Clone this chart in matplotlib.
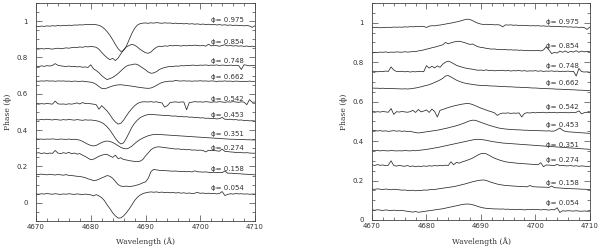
import numpy as np
import matplotlib
matplotlib.use("Agg")
import matplotlib.pyplot as plt
from matplotlib.ticker import MultipleLocator, FuncFormatter

# common wavelength sampling (Angstrom)
wavelength = np.linspace(4670, 4710, 81)
phase_labels = ["0.975", "0.854", "0.748", "0.662", "0.542",
                "0.453", "0.351", "0.274", "0.158", "0.054"]

# ---- left panel (absorption) : offset spectra ----
left_975 = [0.972, 0.970, 0.973, 0.971, 0.974, 0.972, 0.975, 0.973, 0.976, 0.974,
            0.977, 0.975, 0.978, 0.976, 0.979, 0.978, 0.980, 0.979, 0.981, 0.982,
            0.981, 0.982, 0.980, 0.977, 0.970, 0.958, 0.942, 0.922, 0.898, 0.872,
            0.848, 0.833, 0.838, 0.862, 0.897, 0.932, 0.960, 0.978, 0.986, 0.989,
            0.990, 0.988, 0.991, 0.989, 0.992, 0.990, 0.988, 0.991, 0.989, 0.990,
            0.987, 0.989, 0.986, 0.988, 0.985, 0.987, 0.984, 0.986, 0.983, 0.985,
            0.982, 0.984, 0.981, 0.983, 0.980, 0.982, 0.979, 0.981, 0.978, 0.980,
            0.977, 0.979, 0.976, 0.978, 0.975, 0.977, 0.974, 0.976, 0.973, 0.966, 0.975]
left_854 = [0.848, 0.846, 0.849, 0.847, 0.850, 0.848, 0.846, 0.849, 0.851, 0.848,
            0.850, 0.853, 0.851, 0.854, 0.856, 0.855, 0.858, 0.856, 0.860, 0.858,
            0.861, 0.859, 0.856, 0.845, 0.828, 0.812, 0.798, 0.788, 0.795, 0.783,
            0.797, 0.820, 0.842, 0.858, 0.866, 0.872, 0.868, 0.858, 0.845, 0.835,
            0.826, 0.823, 0.830, 0.845, 0.856, 0.862, 0.860, 0.864, 0.862, 0.866,
            0.864, 0.867, 0.865, 0.863, 0.866, 0.864, 0.867, 0.865, 0.868, 0.866,
            0.864, 0.867, 0.862, 0.873, 0.864, 0.867, 0.865, 0.862, 0.866, 0.870,
            0.864, 0.866, 0.863, 0.865, 0.862, 0.864, 0.861, 0.863, 0.860, 0.862, 0.860]
left_748 = [0.752, 0.750, 0.754, 0.751, 0.755, 0.753, 0.756, 0.766, 0.757, 0.754,
            0.752, 0.750, 0.753, 0.749, 0.751, 0.748, 0.750, 0.746, 0.748, 0.745,
            0.760, 0.738, 0.728, 0.716, 0.700, 0.688, 0.678, 0.684, 0.690, 0.700,
            0.712, 0.726, 0.740, 0.752, 0.758, 0.760, 0.764, 0.762, 0.752, 0.742,
            0.732, 0.720, 0.713, 0.715, 0.722, 0.733, 0.740, 0.745, 0.748, 0.751,
            0.750, 0.753, 0.752, 0.755, 0.754, 0.756, 0.755, 0.758, 0.757, 0.756,
            0.758, 0.757, 0.759, 0.756, 0.758, 0.757, 0.759, 0.756, 0.758, 0.757,
            0.755, 0.758, 0.756, 0.757, 0.756, 0.734, 0.760, 0.757, 0.754, 0.756, 0.755]
left_662 = [0.670, 0.669, 0.671, 0.670, 0.672, 0.670, 0.671, 0.669, 0.671, 0.670,
            0.671, 0.669, 0.670, 0.668, 0.670, 0.669, 0.668, 0.670, 0.667, 0.666,
            0.664, 0.660, 0.652, 0.640, 0.630, 0.628, 0.632, 0.638, 0.643, 0.647,
            0.649, 0.650, 0.648, 0.646, 0.644, 0.642, 0.640, 0.637, 0.635, 0.633,
            0.631, 0.630, 0.632, 0.638, 0.646, 0.655, 0.662, 0.666, 0.668, 0.670,
            0.669, 0.674, 0.671, 0.670, 0.672, 0.670, 0.671, 0.669, 0.671, 0.670,
            0.672, 0.670, 0.671, 0.669, 0.671, 0.670, 0.668, 0.670, 0.669, 0.671,
            0.669, 0.670, 0.668, 0.670, 0.669, 0.667, 0.669, 0.668, 0.670, 0.668, 0.669]
left_542 = [0.545, 0.543, 0.546, 0.544, 0.547, 0.545, 0.543, 0.560, 0.545, 0.543,
            0.544, 0.542, 0.545, 0.543, 0.546, 0.550, 0.544, 0.552, 0.546, 0.548,
            0.545, 0.543, 0.540, 0.515, 0.535, 0.520, 0.505, 0.485, 0.462, 0.445,
            0.433, 0.438, 0.455, 0.478, 0.500, 0.518, 0.534, 0.546, 0.553, 0.556,
            0.556, 0.555, 0.557, 0.554, 0.556, 0.552, 0.550, 0.527, 0.535, 0.552,
            0.554, 0.556, 0.553, 0.555, 0.555, 0.512, 0.552, 0.554, 0.557, 0.555,
            0.556, 0.554, 0.557, 0.555, 0.553, 0.556, 0.554, 0.557, 0.555, 0.553,
            0.556, 0.554, 0.557, 0.555, 0.553, 0.556, 0.554, 0.540, 0.568, 0.553, 0.555]
left_453 = [0.458, 0.456, 0.459, 0.457, 0.460, 0.458, 0.456, 0.459, 0.457, 0.455,
            0.458, 0.456, 0.459, 0.457, 0.455, 0.458, 0.456, 0.454, 0.457, 0.455,
            0.456, 0.454, 0.452, 0.448, 0.442, 0.432, 0.418, 0.400, 0.378, 0.355,
            0.336, 0.324, 0.330, 0.355, 0.385, 0.415, 0.438, 0.455, 0.468, 0.476,
            0.482, 0.486, 0.487, 0.486, 0.484, 0.483, 0.482, 0.480, 0.481, 0.479,
            0.477, 0.478, 0.475, 0.476, 0.473, 0.474, 0.471, 0.472, 0.469, 0.470,
            0.467, 0.468, 0.465, 0.466, 0.463, 0.464, 0.462, 0.463, 0.470, 0.460,
            0.459, 0.460, 0.457, 0.458, 0.455, 0.456, 0.453, 0.454, 0.451, 0.452, 0.450]
left_351 = [0.352, 0.350, 0.351, 0.349, 0.351, 0.350, 0.352, 0.350, 0.349, 0.351,
            0.350, 0.349, 0.351, 0.348, 0.350, 0.348, 0.345, 0.338, 0.330, 0.322,
            0.316, 0.313, 0.316, 0.324, 0.332, 0.338, 0.340, 0.338, 0.332, 0.324,
            0.314, 0.305, 0.299, 0.297, 0.302, 0.312, 0.325, 0.338, 0.348, 0.356,
            0.363, 0.369, 0.373, 0.376, 0.377, 0.376, 0.375, 0.374, 0.373, 0.372,
            0.371, 0.370, 0.369, 0.368, 0.367, 0.366, 0.365, 0.364, 0.363, 0.362,
            0.361, 0.360, 0.359, 0.358, 0.357, 0.356, 0.355, 0.354, 0.353, 0.352,
            0.351, 0.350, 0.350, 0.349, 0.349, 0.348, 0.348, 0.347, 0.347, 0.346, 0.346]
left_274 = [0.273, 0.276, 0.271, 0.275, 0.270, 0.274, 0.272, 0.288, 0.274, 0.270,
            0.276, 0.272, 0.278, 0.270, 0.274, 0.268, 0.271, 0.262, 0.255, 0.246,
            0.237, 0.240, 0.248, 0.256, 0.262, 0.266, 0.266, 0.258, 0.250, 0.262,
            0.243, 0.248, 0.238, 0.236, 0.232, 0.230, 0.228, 0.227, 0.229, 0.238,
            0.258, 0.275, 0.292, 0.302, 0.307, 0.308, 0.306, 0.304, 0.302, 0.300,
            0.298, 0.296, 0.297, 0.294, 0.295, 0.292, 0.293, 0.290, 0.291, 0.289,
            0.290, 0.288, 0.280, 0.289, 0.287, 0.288, 0.286, 0.284, 0.296, 0.283,
            0.282, 0.280, 0.279, 0.277, 0.278, 0.276, 0.275, 0.276, 0.274, 0.273, 0.273]
left_158 = [0.157, 0.155, 0.158, 0.156, 0.154, 0.157, 0.155, 0.153, 0.156, 0.154,
            0.152, 0.155, 0.151, 0.150, 0.148, 0.146, 0.145, 0.142, 0.138, 0.132,
            0.128, 0.122, 0.124, 0.130, 0.137, 0.143, 0.150, 0.146, 0.135, 0.118,
            0.100, 0.092, 0.090, 0.092, 0.089, 0.091, 0.094, 0.098, 0.103, 0.110,
            0.115, 0.135, 0.172, 0.184, 0.181, 0.179, 0.177, 0.178, 0.176, 0.175,
            0.174, 0.175, 0.173, 0.172, 0.173, 0.171, 0.172, 0.170, 0.176, 0.171,
            0.170, 0.169, 0.170, 0.168, 0.167, 0.168, 0.166, 0.167, 0.166, 0.175,
            0.163, 0.163, 0.162, 0.161, 0.160, 0.159, 0.158, 0.157, 0.156, 0.155, 0.154]
left_054 = [0.049, 0.047, 0.050, 0.048, 0.051, 0.049, 0.047, 0.050, 0.048, 0.046,
            0.049, 0.047, 0.050, 0.048, 0.046, 0.049, 0.047, 0.045, 0.048, 0.046,
            0.044, 0.038, 0.045, 0.038, 0.028, 0.012, -0.012, -0.032, -0.055, -0.072,
            -0.084, -0.083, -0.072, -0.055, -0.035, -0.012, 0.012, 0.030, 0.042, 0.050,
            0.055, 0.058, 0.060, 0.058, 0.060, 0.057, 0.059, 0.056, 0.058, 0.055,
            0.057, 0.054, 0.056, 0.053, 0.055, 0.052, 0.054, 0.051, 0.053, 0.057,
            0.052, 0.054, 0.051, 0.053, 0.050, 0.052, 0.049, 0.051, 0.062, 0.040,
            0.046, 0.050, 0.048, 0.051, 0.049, 0.050, 0.048, 0.049, 0.047, 0.048, 0.048]

# ---- right panel (emission) ----
right_975 = [0.976, 0.975, 0.977, 0.974, 0.976, 0.975, 0.977, 0.976, 0.978, 0.977,
             0.978, 0.977, 0.979, 0.978, 0.980, 0.979, 0.981, 0.980, 0.982, 0.981,
             0.976, 0.982, 0.985, 0.984, 0.987, 0.988, 0.991, 0.993, 0.996, 0.998,
             1.001, 1.004, 1.007, 1.011, 1.015, 1.018, 1.016, 1.010, 1.003, 0.997,
             0.993, 0.991, 0.992, 0.990, 0.991, 0.989, 0.990, 0.988, 0.979, 0.989,
             0.988, 0.989, 0.987, 0.988, 0.986, 0.987, 0.985, 0.986, 0.984, 0.985,
             0.984, 0.985, 0.983, 0.984, 0.982, 0.983, 0.981, 0.982, 0.980, 0.981,
             0.979, 0.980, 0.978, 0.979, 0.977, 0.978, 0.976, 0.977, 0.975, 0.966, 0.978]
right_854 = [0.846, 0.850, 0.849, 0.851, 0.850, 0.852, 0.849, 0.851, 0.850, 0.852,
             0.851, 0.850, 0.853, 0.851, 0.852, 0.854, 0.853, 0.857, 0.859, 0.862,
             0.866, 0.869, 0.873, 0.876, 0.880, 0.884, 0.888, 0.900, 0.893, 0.898,
             0.902, 0.905, 0.906, 0.903, 0.899, 0.894, 0.890, 0.892, 0.884, 0.878,
             0.875, 0.873, 0.870, 0.868, 0.866, 0.867, 0.864, 0.865, 0.863, 0.864,
             0.862, 0.863, 0.861, 0.862, 0.860, 0.861, 0.859, 0.860, 0.858, 0.859,
             0.858, 0.860, 0.857, 0.862, 0.878, 0.862, 0.843, 0.850, 0.846, 0.856,
             0.850, 0.857, 0.849, 0.855, 0.851, 0.858, 0.850, 0.856, 0.852, 0.855, 0.853]
right_748 = [0.752, 0.754, 0.751, 0.753, 0.752, 0.755, 0.753, 0.776, 0.760, 0.753,
             0.752, 0.754, 0.751, 0.753, 0.750, 0.752, 0.751, 0.753, 0.752, 0.752,
             0.782, 0.770, 0.779, 0.771, 0.781, 0.774, 0.790, 0.800, 0.805, 0.800,
             0.792, 0.784, 0.779, 0.775, 0.771, 0.768, 0.766, 0.764, 0.761, 0.759,
             0.760, 0.758, 0.761, 0.757, 0.759, 0.756, 0.758, 0.757, 0.759, 0.756,
             0.758, 0.755, 0.757, 0.756, 0.758, 0.755, 0.757, 0.754, 0.756, 0.755,
             0.757, 0.754, 0.756, 0.753, 0.755, 0.754, 0.756, 0.753, 0.755, 0.752,
             0.754, 0.753, 0.755, 0.752, 0.754, 0.730, 0.768, 0.752, 0.750, 0.751, 0.749]
right_662 = [0.669, 0.668, 0.668, 0.667, 0.668, 0.666, 0.667, 0.666, 0.666, 0.665,
             0.665, 0.664, 0.665, 0.664, 0.665, 0.667, 0.669, 0.672, 0.675, 0.679,
             0.682, 0.686, 0.691, 0.697, 0.703, 0.710, 0.718, 0.730, 0.732, 0.725,
             0.717, 0.709, 0.703, 0.698, 0.694, 0.691, 0.689, 0.687, 0.685, 0.683,
             0.682, 0.681, 0.681, 0.680, 0.679, 0.679, 0.678, 0.677, 0.677, 0.676,
             0.675, 0.675, 0.674, 0.673, 0.673, 0.672, 0.671, 0.671, 0.670, 0.669,
             0.669, 0.668, 0.667, 0.667, 0.666, 0.665, 0.665, 0.664, 0.663, 0.663,
             0.662, 0.661, 0.661, 0.660, 0.660, 0.659, 0.658, 0.658, 0.657, 0.657, 0.656]
right_542 = [0.548, 0.546, 0.549, 0.547, 0.550, 0.548, 0.546, 0.565, 0.535, 0.549,
             0.547, 0.550, 0.548, 0.546, 0.549, 0.556, 0.545, 0.560, 0.548, 0.552,
             0.558, 0.545, 0.562, 0.550, 0.522, 0.556, 0.560, 0.565, 0.570, 0.574,
             0.578, 0.581, 0.584, 0.587, 0.589, 0.591, 0.589, 0.585, 0.579, 0.573,
             0.567, 0.562, 0.557, 0.552, 0.548, 0.543, 0.530, 0.538, 0.542, 0.541,
             0.543, 0.540, 0.542, 0.541, 0.543, 0.522, 0.540, 0.544, 0.542, 0.545,
             0.543, 0.545, 0.544, 0.546, 0.543, 0.545, 0.544, 0.546, 0.543, 0.545,
             0.544, 0.546, 0.543, 0.545, 0.544, 0.546, 0.553, 0.538, 0.544, 0.546, 0.545]
right_453 = [0.452, 0.454, 0.451, 0.453, 0.450, 0.452, 0.449, 0.451, 0.453, 0.450,
             0.452, 0.449, 0.451, 0.448, 0.450, 0.446, 0.443, 0.441, 0.443, 0.445,
             0.447, 0.449, 0.451, 0.453, 0.455, 0.458, 0.461, 0.464, 0.467, 0.471,
             0.474, 0.478, 0.482, 0.487, 0.492, 0.498, 0.503, 0.506, 0.505, 0.500,
             0.495, 0.490, 0.485, 0.480, 0.476, 0.472, 0.468, 0.465, 0.463, 0.461,
             0.460, 0.459, 0.458, 0.457, 0.457, 0.456, 0.455, 0.455, 0.454, 0.454,
             0.453, 0.453, 0.452, 0.452, 0.451, 0.452, 0.450, 0.451, 0.458, 0.466,
             0.455, 0.449, 0.447, 0.446, 0.445, 0.444, 0.443, 0.442, 0.441, 0.440, 0.439]
right_351 = [0.352, 0.351, 0.353, 0.350, 0.352, 0.351, 0.350, 0.352, 0.351, 0.350,
             0.351, 0.350, 0.352, 0.351, 0.350, 0.352, 0.351, 0.353, 0.354, 0.356,
             0.358, 0.360, 0.362, 0.365, 0.367, 0.370, 0.373, 0.376, 0.379, 0.382,
             0.385, 0.388, 0.391, 0.394, 0.397, 0.400, 0.403, 0.406, 0.408, 0.409,
             0.408, 0.406, 0.404, 0.401, 0.398, 0.396, 0.394, 0.392, 0.390, 0.389,
             0.388, 0.387, 0.386, 0.385, 0.384, 0.383, 0.382, 0.381, 0.380, 0.379,
             0.378, 0.377, 0.376, 0.375, 0.374, 0.373, 0.372, 0.371, 0.370, 0.369,
             0.368, 0.367, 0.366, 0.365, 0.364, 0.363, 0.362, 0.361, 0.360, 0.359, 0.358]
right_274 = [0.280, 0.276, 0.281, 0.277, 0.279, 0.275, 0.278, 0.300, 0.276, 0.273,
             0.277, 0.274, 0.272, 0.276, 0.271, 0.274, 0.270, 0.273, 0.271, 0.274,
             0.272, 0.275, 0.273, 0.276, 0.274, 0.277, 0.275, 0.278, 0.276, 0.295,
             0.280, 0.292, 0.288, 0.294, 0.298, 0.303, 0.308, 0.314, 0.322, 0.330,
             0.336, 0.338, 0.335, 0.328, 0.320, 0.313, 0.308, 0.303, 0.299, 0.295,
             0.293, 0.291, 0.290, 0.288, 0.287, 0.286, 0.285, 0.284, 0.283, 0.282,
             0.281, 0.280, 0.290, 0.270, 0.279, 0.278, 0.277, 0.276, 0.282, 0.275,
             0.276, 0.275, 0.274, 0.276, 0.273, 0.275, 0.272, 0.274, 0.273, 0.271, 0.272]
right_158 = [0.157, 0.155, 0.158, 0.156, 0.154, 0.157, 0.155, 0.153, 0.156, 0.154,
             0.153, 0.151, 0.152, 0.150, 0.149, 0.151, 0.148, 0.150, 0.149, 0.152,
             0.151, 0.153, 0.155, 0.154, 0.157, 0.159, 0.161, 0.163, 0.165, 0.167,
             0.169, 0.172, 0.175, 0.179, 0.182, 0.186, 0.190, 0.194, 0.197, 0.200,
             0.202, 0.203, 0.200, 0.195, 0.190, 0.186, 0.182, 0.179, 0.177, 0.175,
             0.174, 0.173, 0.172, 0.171, 0.170, 0.170, 0.169, 0.168, 0.175, 0.169,
             0.168, 0.167, 0.167, 0.166, 0.166, 0.165, 0.172, 0.164, 0.163, 0.162,
             0.161, 0.160, 0.160, 0.159, 0.158, 0.158, 0.157, 0.156, 0.156, 0.155, 0.154]
right_054 = [0.051, 0.049, 0.052, 0.050, 0.048, 0.051, 0.049, 0.047, 0.050, 0.048,
             0.047, 0.049, 0.046, 0.044, 0.042, 0.040, 0.043, 0.039, 0.041, 0.043,
             0.045, 0.047, 0.049, 0.051, 0.053, 0.055, 0.057, 0.060, 0.063, 0.066,
             0.069, 0.072, 0.075, 0.078, 0.080, 0.081, 0.080, 0.077, 0.073, 0.068,
             0.064, 0.061, 0.059, 0.058, 0.057, 0.056, 0.056, 0.055, 0.056, 0.054,
             0.055, 0.053, 0.054, 0.052, 0.054, 0.053, 0.051, 0.053, 0.052, 0.054,
             0.052, 0.053, 0.051, 0.053, 0.052, 0.050, 0.053, 0.051, 0.062, 0.038,
             0.047, 0.045, 0.047, 0.046, 0.045, 0.047, 0.045, 0.044, 0.046, 0.044, 0.045]

left_spectra = [left_975, left_854, left_748, left_662, left_542,
                left_453, left_351, left_274, left_158, left_054]
right_spectra = [right_975, right_854, right_748, right_662, right_542,
                 right_453, right_351, right_274, right_158, right_054]

line_color = "#2a2a2a"
text_color = "#333333"
font = "DejaVu Sans"

fig = plt.figure(figsize=(6.0, 2.48), dpi=100)
axL = fig.add_axes([0.060, 0.109, 0.365, 0.879])
axR = fig.add_axes([0.620, 0.113, 0.363, 0.875])


def style(ax, ylim):
    ax.set_xlim(4670, 4710)
    ax.set_ylim(*ylim)
    ax.xaxis.set_major_locator(MultipleLocator(10))
    ax.xaxis.set_minor_locator(MultipleLocator(2))
    ax.yaxis.set_major_locator(MultipleLocator(0.2))
    ax.yaxis.set_minor_locator(MultipleLocator(0.05))
    ax.yaxis.set_major_formatter(FuncFormatter(lambda v, p: "%g" % round(v, 2)))
    ax.tick_params(which="both", direction="in", top=True, right=True,
                   width=0.5, color="#444444", labelcolor=text_color,
                   labelsize=5)
    ax.tick_params(which="major", length=4)
    ax.tick_params(which="minor", length=2)
    ax.tick_params(axis="x", pad=2)
    ax.tick_params(axis="y", pad=6)
    for lab in ax.get_xticklabels() + ax.get_yticklabels():
        lab.set_family(font)
    for s in ax.spines.values():
        s.set_linewidth(0.6)
        s.set_color("#444444")
    ax.set_ylabel("Phase (\u03d5)", fontsize=5.5, color=text_color,
                  family="DejaVu Serif", labelpad=3)


for ax, spectra, ylim in [(axL, left_spectra, (-0.1, 1.1)),
                          (axR, right_spectra, (0.0, 1.1))]:
    style(ax, ylim)
    for lab, flux in zip(phase_labels, spectra):
        ax.plot(wavelength, flux, color=line_color, lw=0.55)
        ax.text(4702, float(lab) + 0.03, "\u03d5= " + lab, fontsize=5,
                color=text_color, family=font, ha="left", va="center")

fig.text(0.2425, 0.025, "Wavelength (\u00c5)", fontsize=5.5, color=text_color,
         family="DejaVu Serif", ha="center", va="center")
fig.text(0.802, 0.025, "Wavelength (\u00c5)", fontsize=5.5, color=text_color,
         family="DejaVu Serif", ha="center", va="center")

fig.savefig("out.png", dpi=100)
